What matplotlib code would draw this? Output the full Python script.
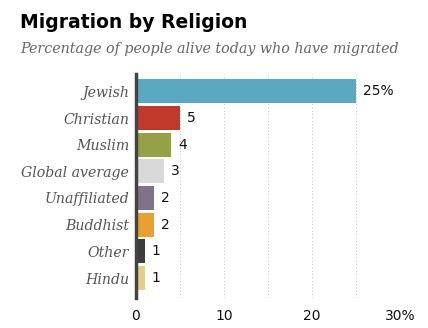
import matplotlib.pyplot as plt

religions = ["Jewish", "Christian", "Muslim", "Global average", "Unaffiliated",
             "Buddhist", "Other", "Hindu"]
values = [25, 5, 4, 3.2, 2, 2, 1, 1]
labels = ["25%", "5", "4", "3", "2", "2", "1", "1"]
colors = ["#5ba8c2", "#c0392b", "#96a047", "#d9d9d9", "#7f7289",
          "#e9a02f", "#3d3d3d", "#e5cd8a"]
ticks = [0, 10, 20, 30]
tick_labels = ["0", "10", "20", "30%"]

fig = plt.figure(figsize=(4.28, 3.28), dpi=100)
ax = fig.add_axes([136 / 428, 30 / 328, 264 / 428, 224 / 328])

ypos = list(range(len(religions)))
ax.barh(ypos, values, height=0.9, color=colors, zorder=2)
for y, v, lab in zip(ypos, values, labels):
    ax.text(v + 0.8, y, lab, va="center", ha="left", fontsize=10,
            family="DejaVu Sans", color="#111111")

ax.set_ylim(len(religions) - 0.5 + 0.25, -0.5 - 0.15)
ax.set_xlim(0, 30)
ax.set_yticks(ypos)
ax.set_yticklabels(religions, family="DejaVu Serif", style="italic",
                   fontsize=10.2, color="#555555")
ax.set_xticks(ticks)
ax.set_xticklabels(tick_labels, fontsize=10, color="#111111")
ax.tick_params(length=0, pad=5)
ax.tick_params(axis="x", pad=8)

for g in [5, 10, 15, 20, 25, 30]:
    ax.axvline(g, color="#c8c8c8", lw=0.8, ls=(0, (1, 2)), zorder=1)

for s in ["top", "right", "bottom"]:
    ax.spines[s].set_visible(False)
ax.spines["left"].set_color("#444444")
ax.spines["left"].set_linewidth(2.5)
ax.spines["left"].set_zorder(3)

fig.text(20 / 428, 1 - 22 / 328, "Migration by Religion", fontsize=13.5,
         fontweight="bold", family="DejaVu Sans", va="center")
fig.text(20 / 428, 1 - 49 / 328, "Percentage of people alive today who have migrated",
         fontsize=10.3, style="italic", family="DejaVu Serif", color="#666666",
         va="center")

fig.savefig("out.png", dpi=100)
